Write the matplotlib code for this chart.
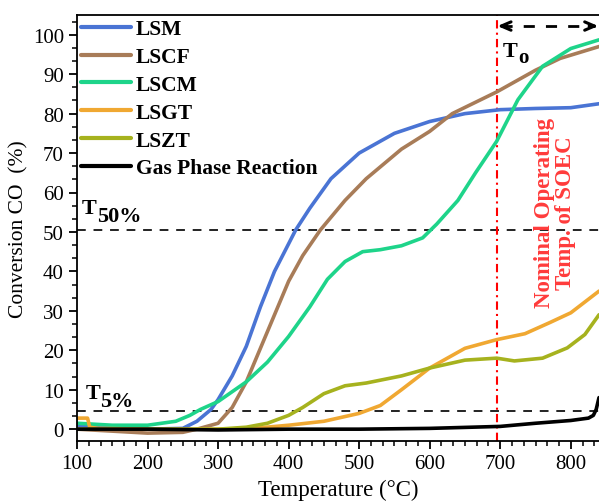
import numpy as np
import matplotlib
matplotlib.use("Agg")
import matplotlib.pyplot as plt
from matplotlib.ticker import MultipleLocator, AutoMinorLocator

plt.rcParams['font.family'] = ['Liberation Serif', 'DejaVu Serif']

# --- data ---
lsm_T = [100, 150, 200, 250, 270, 290, 300, 320, 340, 360, 380, 400, 410, 430, 460,
         500, 550, 600, 650, 700, 750, 800, 840]
lsm = [1, 0.5, 0, 0.2, 2, 5, 7.5, 13.5, 21, 31, 40, 47, 50.5, 56, 63.5,
       70, 75, 78, 80, 81, 81.3, 81.5, 82.5]

lscf_T = [100, 150, 200, 250, 270, 290, 300, 320, 340, 360, 380, 400, 420, 445, 480,
          510, 560, 600, 632, 695, 750, 785, 840]
lscf = [0, -0.5, -1, -0.8, 0, 1, 1.5, 5.5, 12, 20.5, 29, 37.5, 44, 50.5, 58,
        63.5, 71, 75.5, 80, 85.5, 91, 94, 97]

lscm_T = [100, 150, 200, 240, 260, 275, 300, 340, 370, 400, 430, 455, 480, 505, 530,
          560, 590, 610, 640, 665, 695, 725, 760, 800, 840]
lscm = [1.5, 1, 1, 2, 3.5, 5, 7, 12, 17, 23.5, 31, 38, 42.5, 45, 45.5,
        46.5, 48.5, 52, 58, 65, 73, 83.5, 92, 96.5, 98.7]

lsgt_T = [100, 115, 118, 130, 200, 300, 350, 400, 450, 500, 530, 560, 600, 650, 695,
          735, 770, 800, 840]
lsgt = [2.8, 2.8, 0.5, 0.2, 0, 0, 0.2, 1, 2, 4, 6, 10, 15.5, 20.5, 22.7,
        24.2, 27, 29.5, 35]

lszt_T = [100, 200, 300, 340, 370, 400, 420, 450, 480, 510, 560, 600, 650, 695, 720,
          760, 795, 820, 840]
lszt = [0, 0, 0, 0.5, 1.5, 3.5, 5.5, 9, 11, 11.7, 13.5, 15.5, 17.5, 18, 17.3,
        18, 20.6, 24, 29]

gas_T = [100, 200, 300, 400, 500, 600, 700, 750, 800, 825, 832, 836, 840]
gas = [0, 0, -0.2, 0, 0, 0.2, 0.7, 1.5, 2.2, 2.8, 3.5, 5, 8]

series = [
    ("LSM", lsm_T, lsm, "#4a74d4"),
    ("LSCF", lscf_T, lscf, "#a87c58"),
    ("LSCM", lscm_T, lscm, "#1ed48a"),
    ("LSGT", lsgt_T, lsgt, "#f0a832"),
    ("LSZT", lszt_T, lszt, "#a6b21e"),
    ("Gas Phase Reaction", gas_T, gas, "black"),
]

t50 = 50.5
t5 = 4.7
t_nominal = 695

fig = plt.figure(figsize=(5.99, 5.02), dpi=100)
ax = fig.add_axes([77 / 599, 60 / 502, 522 / 599, 426 / 502])

# reference lines
ax.axhline(t50, color="#222222", lw=1.4, dashes=(4.5, 4))
ax.axhline(t5, color="#222222", lw=1.4, dashes=(4.5, 4))
ax.axvline(t_nominal, color="red", lw=1.5, dashes=(4, 2, 1, 2))

for name, xs, ys, c in series:
    ax.plot(xs, ys, color=c, lw=2.6, label=name, solid_capstyle="round",
            solid_joinstyle="round")

ax.set_xlim(100, 840)
ax.set_ylim(-3, 105)
ax.xaxis.set_major_locator(MultipleLocator(100))
ax.xaxis.set_minor_locator(AutoMinorLocator(6))
ax.yaxis.set_major_locator(MultipleLocator(10))
ax.yaxis.set_minor_locator(AutoMinorLocator(3))
ax.tick_params(which="major", direction="out", length=6, width=1.3, labelsize=15)
ax.tick_params(which="minor", direction="out", length=3.5, width=1.1)
ax.spines["right"].set_visible(False)
for s in ("left", "top", "bottom"):
    ax.spines[s].set_linewidth(1.3)

ax.set_xlabel("Temperature (°C)", fontsize=16.5, labelpad=4)
ax.set_ylabel("Conversion CO  (%)", fontsize=15.5, labelpad=3)

leg = ax.legend(loc="upper left", bbox_to_anchor=(0.0, 1.0), frameon=False,
                prop={"weight": "bold", "size": 15.5}, handlelength=2.3,
                handletextpad=0.23, labelspacing=0.36, borderaxespad=0.1,
                borderpad=0.1)
for h in leg.get_lines():
    h.set_linewidth(3)

# T labels (T with a large subscript)
lab = dict(fontsize=16, fontweight="bold", va="baseline", ha="left")
ax.text(107, 54.7, "T", **lab)
ax.text(128, 52.7, "50%", **lab)
ax.text(113, 7.8, "T", **lab)
ax.text(132.5, 5.8, "5%", **lab)
ax.text(703, 94.7, "T", **lab)
ax.text(725, 93.2, "o", fontsize=15, fontweight="bold", va="baseline", ha="left")

# operating window arrow
ax.plot([t_nominal + 6, 834], [102.2, 102.2], color="black", lw=2, dashes=(4, 4))
for x0, x1 in ((t_nominal + 14, t_nominal + 1), (826, 839)):
    ax.annotate("", xy=(x1, 102.2), xytext=(x0, 102.2),
                arrowprops=dict(arrowstyle="->,head_length=0.7,head_width=0.3",
                                lw=2.2, color="black", shrinkA=0, shrinkB=0))

ax.text(777, 55, "Nominal Operating\nTemp. of SOEC", color="#ff3b3b", fontsize=16.5,
        fontweight="bold", rotation=90, ha="center", va="center",
        multialignment="center", linespacing=1.0)

fig.savefig("out.png", dpi=100)
